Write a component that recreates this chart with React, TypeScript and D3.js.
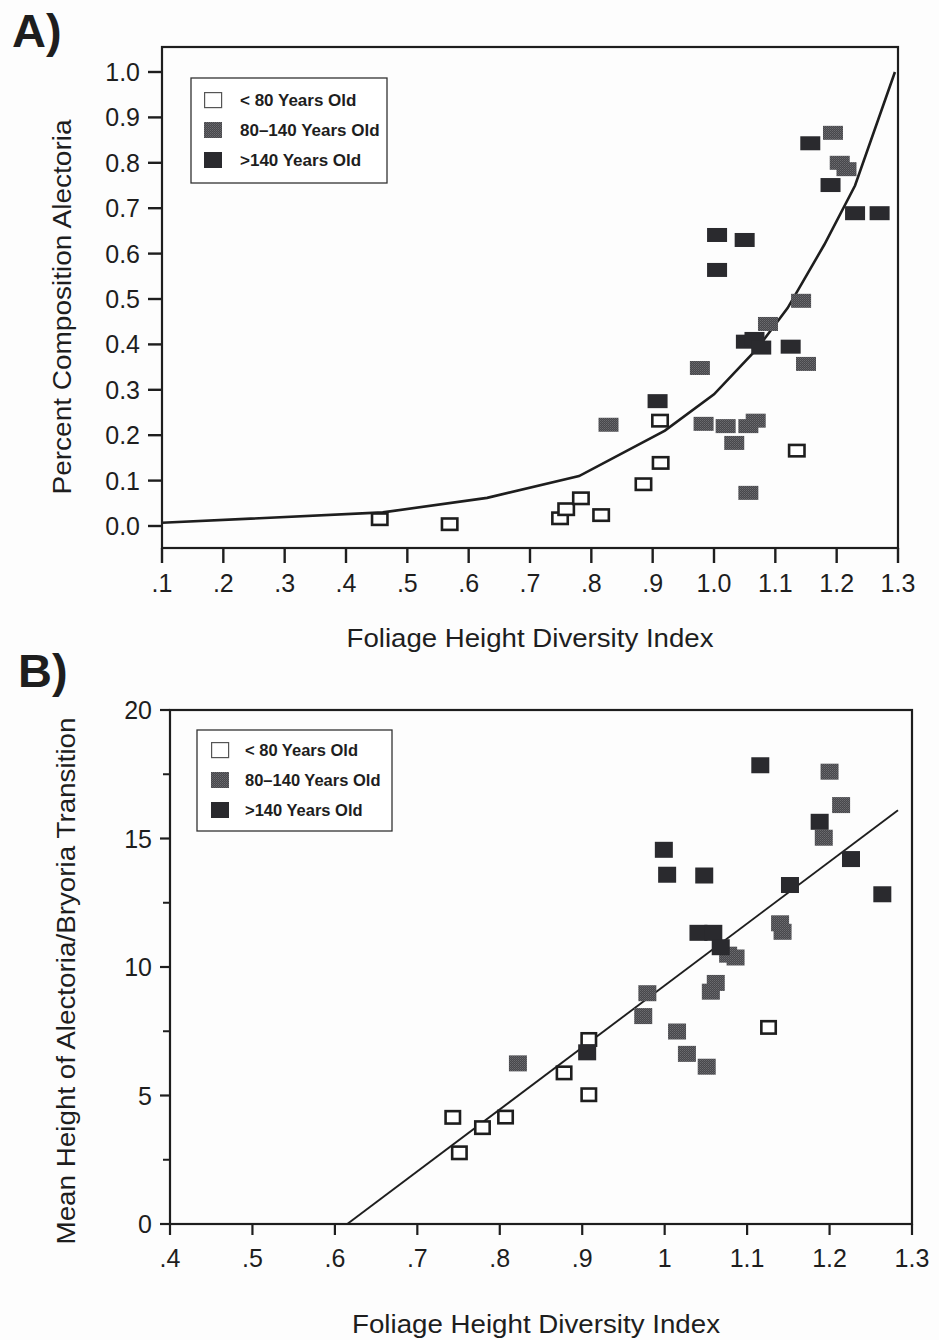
import React from 'react';
import * as d3 from 'd3';

const W = 939;
const H = 1340;

// ---------- Panel A data ----------
const aXTicks = [0.1, 0.2, 0.3, 0.4, 0.5, 0.6, 0.7, 0.8, 0.9, 1.0, 1.1, 1.2, 1.3];
const aXTickLabels = ['.1', '.2', '.3', '.4', '.5', '.6', '.7', '.8', '.9', '1.0', '1.1', '1.2', '1.3'];
const aYTicks = [0, 0.1, 0.2, 0.3, 0.4, 0.5, 0.6, 0.7, 0.8, 0.9, 1.0];
const aYTickLabels = ['0.0', '0.1', '0.2', '0.3', '0.4', '0.5', '0.6', '0.7', '0.8', '0.9', '1.0'];

const aYoungX = [0.455, 0.569, 0.749, 0.759, 0.783, 0.816, 0.885, 0.913, 0.912, 1.135];
const aYoungY = [0.015, 0.004, 0.017, 0.037, 0.061, 0.024, 0.092, 0.139, 0.232, 0.166];
const aMidX = [0.828, 0.977, 0.983, 1.019, 1.033, 1.056, 1.068, 1.056, 1.088, 1.142, 1.15, 1.194, 1.205, 1.216];
const aMidY = [0.223, 0.348, 0.225, 0.22, 0.183, 0.22, 0.232, 0.073, 0.445, 0.496, 0.357, 0.866, 0.8, 0.786];
const aOldX = [0.908, 1.005, 1.05, 1.005, 1.052, 1.066, 1.077, 1.125, 1.157, 1.19, 1.23, 1.27];
const aOldY = [0.275, 0.641, 0.63, 0.564, 0.406, 0.412, 0.393, 0.395, 0.843, 0.751, 0.689, 0.689];
const aCurveX = [0.1, 0.46, 0.63, 0.78, 0.92, 1.0, 1.07, 1.12, 1.18, 1.23, 1.295];
const aCurveY = [0.007, 0.03, 0.062, 0.11, 0.21, 0.29, 0.39, 0.48, 0.62, 0.75, 1.0];

// ---------- Panel B data ----------
const bXTicks = [0.4, 0.5, 0.6, 0.7, 0.8, 0.9, 1.0, 1.1, 1.2, 1.3];
const bXTickLabels = ['.4', '.5', '.6', '.7', '.8', '.9', '1', '1.1', '1.2', '1.3'];
const bYTicks = [0, 5, 10, 15, 20];
const bYTickLabels = ['0', '5', '10', '15', '20'];
const bYMinorTicks = [2.5, 7.5, 12.5, 17.5];

const bYoungX = [0.743, 0.751, 0.779, 0.807, 0.878, 0.908, 0.908, 1.126];
const bYoungY = [4.15, 2.77, 3.75, 4.16, 5.88, 7.18, 5.03, 7.65];
const bMidX = [0.822, 0.974, 0.979, 1.015, 1.027, 1.051, 1.056, 1.062, 1.077, 1.086, 1.14, 1.143, 1.193, 1.2, 1.214];
const bMidY = [6.25, 8.09, 8.98, 7.49, 6.62, 6.12, 9.04, 9.38, 10.48, 10.37, 11.7, 11.37, 15.03, 17.6, 16.3];
const bOldX = [0.906, 0.999, 1.003, 1.048, 1.041, 1.059, 1.068, 1.116, 1.152, 1.188, 1.226, 1.264];
const bOldY = [6.68, 14.56, 13.59, 13.56, 11.33, 11.33, 10.77, 17.85, 13.19, 15.65, 14.2, 12.83];
const bLineX = [0.615, 1.283];
const bLineY = [0, 16.1];

const legendLabels = ['< 80 Years Old', '80\u2013140 Years Old', '>140 Years Old'];

const FONT = '"Liberation Sans", Arial, Helvetica, sans-serif';
const INK = '#1e1e1e';
const DARK = '#2a2a2e';

const zip = (xs: number[], ys: number[]) => xs.map((x, i) => [x, ys[i]] as [number, number]);

type Sc = d3.ScaleLinear<number, number>;

function Markers({ pts, x, y, w, h, kind }: { pts: [number, number][]; x: Sc; y: Sc; w: number; h: number; kind: 'open' | 'mid' | 'dark' }) {
  return (
    <g>
      {pts.map(([vx, vy], i) => {
        const cx = x(vx);
        const cy = y(vy);
        if (kind === 'open') {
          return <rect key={i} x={cx - w / 2 + 1.3} y={cy - h / 2 + 1.3} width={w - 2.6} height={h - 2.6} fill="#fff" stroke={INK} strokeWidth={2.6} />;
        }
        return <rect key={i} x={cx - w / 2} y={cy - h / 2} width={w} height={h} fill={kind === 'mid' ? 'url(#dither)' : DARK} />;
      })}
    </g>
  );
}

function Legend({ x0, y0, w, h, rowY, swX, textX, fs }: { x0: number; y0: number; w: number; h: number; rowY: number[]; swX: number; textX: number; fs: number }) {
  return (
    <g>
      <rect x={x0} y={y0} width={w} height={h} fill="#fff" stroke="#333" strokeWidth={1.3} />
      {legendLabels.map((lab, i) => (
        <g key={i}>
          {i === 0 ? (
            <rect x={swX + 0.6} y={rowY[i] - 7.4} width={17} height={15} fill="#fff" stroke="#555" strokeWidth={1.2} />
          ) : (
            <rect x={swX} y={rowY[i] - 8} width={18} height={16} fill={i === 1 ? 'url(#dither)' : DARK} />
          )}
          <text x={textX} y={rowY[i]} dy="0.36em" fontFamily={FONT} fontWeight="bold" fontSize={fs} fill={INK}>
            {lab}
          </text>
        </g>
      ))}
    </g>
  );
}

export default function App() {
  // Panel A scales
  const xA = d3.scaleLinear().domain([0.1, 1.3]).range([162, 898]);
  const yA = d3.scaleLinear().domain([0, 1]).range([526, 72]);
  const aTop = 47;
  const aBottom = 548;

  // Panel B scales
  const xB = d3.scaleLinear().domain([0.4, 1.3]).range([170, 912]);
  const yB = d3.scaleLinear().domain([0, 20]).range([1224, 710]);

  const lineA = d3.line<[number, number]>().x((d) => xA(d[0])).y((d) => yA(d[1])).curve(d3.curveLinear);
  const lineB = d3.line<[number, number]>().x((d) => xB(d[0])).y((d) => yB(d[1]));

  return (
    <div style={{ position: 'absolute', left: 0, top: 0 }}>
      <svg width={W} height={H} viewBox={`0 0 ${W} ${H}`} style={{ display: 'block', background: '#fdfdfd' }}>
        <defs>
          <pattern id="dither" width="2" height="2" patternUnits="userSpaceOnUse">
            <rect width="2" height="2" fill="#47474b" />
            <rect x="0" y="0" width="1" height="1" fill="#6c6c70" />
            <rect x="1" y="1" width="1" height="1" fill="#5e5e62" />
          </pattern>
        </defs>
        <rect x={0} y={0} width={W} height={H} fill="#fdfdfd" />

        {/* ================= Panel A ================= */}
        <text x={12} y={47} fontFamily={FONT} fontWeight="bold" fontSize={47} fill={INK}>A)</text>

        <rect x={xA(0.1)} y={aTop} width={xA(1.3) - xA(0.1)} height={aBottom - aTop} fill="none" stroke={INK} strokeWidth={2.2} />

        {aYTicks.map((t, i) => (
          <g key={'ay' + i}>
            <line x1={xA(0.1) - 14} x2={xA(0.1)} y1={yA(t)} y2={yA(t)} stroke={INK} strokeWidth={2.4} />
            <text x={140} y={yA(t)} dy="0.36em" textAnchor="end" fontFamily={FONT} fontSize={25} fill={INK}>
              {aYTickLabels[i]}
            </text>
          </g>
        ))}
        {aXTicks.map((t, i) => (
          <g key={'ax' + i}>
            <line x1={xA(t)} x2={xA(t)} y1={aBottom} y2={aBottom + 15} stroke={INK} strokeWidth={2.4} />
            <text x={xA(t)} y={592} textAnchor="middle" fontFamily={FONT} fontSize={25} fill={INK}>
              {aXTickLabels[i]}
            </text>
          </g>
        ))}

        <text x={530} y={647} textAnchor="middle" fontFamily={FONT} fontSize={25} textLength={367} lengthAdjust="spacingAndGlyphs" fill={INK}>
          Foliage Height Diversity Index
        </text>
        <text transform="translate(71,307) rotate(-90)" textAnchor="middle" fontFamily={FONT} fontSize={26} textLength={375} lengthAdjust="spacingAndGlyphs" fill={INK}>
          Percent Composition Alectoria
        </text>

        <Legend x0={191} y0={78} w={196} h={105} rowY={[100, 130, 160]} swX={204} textX={240} fs={17} />

        <path d={lineA(zip(aCurveX, aCurveY)) || ''} fill="none" stroke={INK} strokeWidth={2.6} />
        <Markers pts={zip(aYoungX, aYoungY)} x={xA} y={yA} w={18} h={14} kind="open" />
        <Markers pts={zip(aMidX, aMidY)} x={xA} y={yA} w={20} h={14} kind="mid" />
        <Markers pts={zip(aOldX, aOldY)} x={xA} y={yA} w={20} h={14} kind="dark" />

        {/* ================= Panel B ================= */}
        <text x={18} y={687} fontFamily={FONT} fontWeight="bold" fontSize={47} fill={INK}>B)</text>

        <rect x={xB(0.4)} y={yB(20)} width={xB(1.3) - xB(0.4)} height={yB(0) - yB(20)} fill="none" stroke={INK} strokeWidth={2.2} />

        {bYTicks.map((t, i) => (
          <g key={'by' + i}>
            <line x1={xB(0.4) - 10} x2={xB(0.4)} y1={yB(t)} y2={yB(t)} stroke={INK} strokeWidth={2.2} />
            <text x={152} y={yB(t)} dy="0.36em" textAnchor="end" fontFamily={FONT} fontSize={25} fill={INK}>
              {bYTickLabels[i]}
            </text>
          </g>
        ))}
        {bYMinorTicks.map((t, i) => (
          <line key={'bym' + i} x1={xB(0.4) - 7} x2={xB(0.4)} y1={yB(t)} y2={yB(t)} stroke={INK} strokeWidth={2} />
        ))}
        {bXTicks.map((t, i) => (
          <g key={'bx' + i}>
            <line x1={xB(t)} x2={xB(t)} y1={yB(0)} y2={yB(0) + 11} stroke={INK} strokeWidth={2.2} />
            <text x={xB(t)} y={1267} textAnchor="middle" fontFamily={FONT} fontSize={25} fill={INK}>
              {bXTickLabels[i]}
            </text>
          </g>
        ))}

        <text x={536} y={1333} textAnchor="middle" fontFamily={FONT} fontSize={25} textLength={368} lengthAdjust="spacingAndGlyphs" fill={INK}>
          Foliage Height Diversity Index
        </text>
        <text transform="translate(75,981) rotate(-90)" textAnchor="middle" fontFamily={FONT} fontSize={26} textLength={527} lengthAdjust="spacingAndGlyphs" fill={INK}>
          Mean Height of Alectoria/Bryoria Transition
        </text>

        <Legend x0={197} y0={730} w={195} h={101} rowY={[750, 780, 810]} swX={211} textX={245} fs={16.5} />

        <path d={lineB(zip(bLineX, bLineY)) || ''} fill="none" stroke={INK} strokeWidth={1.9} />
        <Markers pts={zip(bYoungX, bYoungY)} x={xB} y={yB} w={17} h={15} kind="open" />
        <Markers pts={zip(bMidX, bMidY)} x={xB} y={yB} w={18} h={16} kind="mid" />
        <Markers pts={zip(bOldX, bOldY)} x={xB} y={yB} w={18} h={16} kind="dark" />
      </svg>
    </div>
  );
}
